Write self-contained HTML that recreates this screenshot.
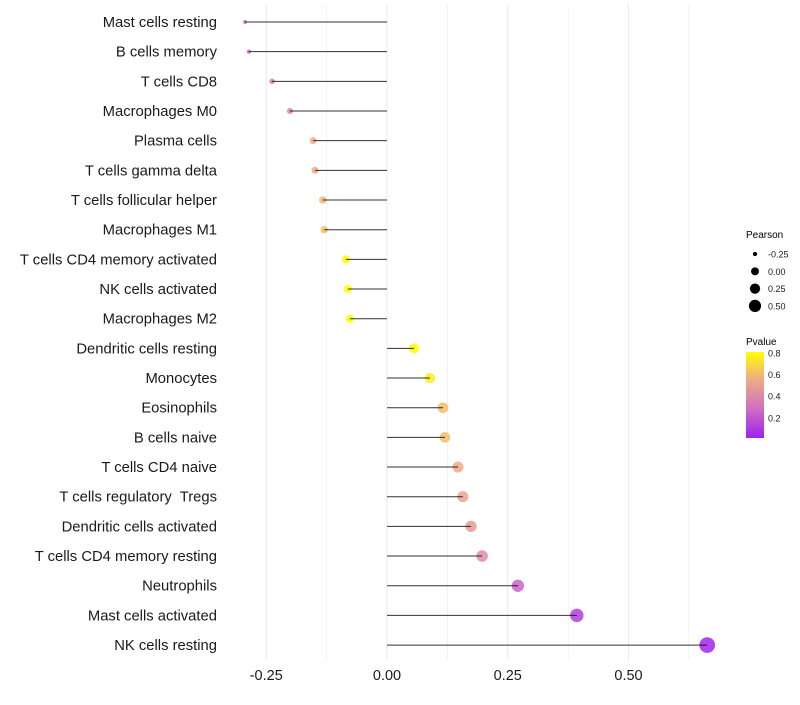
<!DOCTYPE html>
<html><head><meta charset="utf-8"><style>
body{margin:0;background:#fff;font-family:"Liberation Sans",sans-serif}
text{white-space:pre}
</style></head><body>
<svg id="c" width="800" height="700" xmlns="http://www.w3.org/2000/svg">
<defs><linearGradient id="pg" x1="0" y1="1" x2="0" y2="0">
<stop offset="0" stop-color="#A020F0"/><stop offset="0.35" stop-color="#D070C0"/><stop offset="0.7" stop-color="#F0B080"/><stop offset="1" stop-color="#FFFF00"/></linearGradient></defs>
<g id="grid"></g><g id="dots"></g><g id="marks"></g><g id="axes"></g><g id="legend"></g>
</svg>
<script>
const categories=["Mast cells resting","B cells memory","T cells CD8","Macrophages M0","Plasma cells","T cells gamma delta","T cells follicular helper","Macrophages M1","T cells CD4 memory activated","NK cells activated","Macrophages M2","Dendritic cells resting","Monocytes","Eosinophils","B cells naive","T cells CD4 naive","T cells regulatory  Tregs","Dendritic cells activated","T cells CD4 memory resting","Neutrophils","Mast cells activated","NK cells resting"];
const pearson=[-0.294,-0.286,-0.238,-0.201,-0.153,-0.149,-0.133,-0.130,-0.085,-0.081,-0.077,0.056,0.089,0.116,0.120,0.147,0.157,0.174,0.197,0.271,0.393,0.663];
const pvalue=[0.28,0.25,0.33,0.4,0.55,0.55,0.6,0.62,0.8,0.8,0.82,0.84,0.76,0.62,0.62,0.55,0.52,0.48,0.42,0.25,0.12,0.03];
const xTicks=[-0.25,0,0.25,0.5];
const xTickLabels=["-0.25","0.00","0.25","0.50"];
const sizeLegend=[-0.25,0,0.25,0.5];
const pLegend=[0.8,0.6,0.4,0.2];
const NS="http://www.w3.org/2000/svg";
const X=v=>387+v*483;
const Y=i=>22+i*29.67;
const R=v=>Math.sqrt(Math.max(1,21.6+60*v));
const stops=[[0,[160,32,240]],[0.35,[208,112,192]],[0.7,[240,176,128]],[1,[255,255,0]]];
function col(p){let t=Math.max(0,Math.min(1,(p-0.015)/0.795));for(let k=1;k<stops.length;k++){if(t<=stops[k][0]){const a=stops[k-1],b=stops[k],f=(t-a[0])/(b[0]-a[0]);return "rgb("+a[1].map((c,j)=>Math.round(c+(b[1][j]-c)*f)).join(",")+")";}}return "rgb(255,255,0)";}
function el(tag,attrs,parent){const e=document.createElementNS(NS,tag);for(const k in attrs)e.setAttribute(k,attrs[k]);document.getElementById(parent).appendChild(e);return e;}
[-0.25,-0.125,0,0.125,0.25,0.375,0.5,0.625].forEach(v=>{const g=el("line",{x1:X(v),x2:X(v),y1:5,y2:660,stroke:"#ebebeb","stroke-width":Number.isInteger(v*4)?1:0.6},"grid");

});
categories.forEach((c,i)=>{
const y=Y(i);
const d=el("circle",{cx:X(pearson[i]),cy:y,r:R(pearson[i]),fill:col(pvalue[i]),"fill-opacity":0.85},"dots");


const s=el("line",{x1:X(0),x2:X(pearson[i]),y1:y,y2:y,stroke:"#000","stroke-width":1,"stroke-opacity":0.8},"marks");


const t=el("text",{x:217,y:y+5,"text-anchor":"end","font-size":14.8,fill:"#1a1a1a"},"axes");t.textContent=c;


});
xTicks.forEach((v,i)=>{const t=el("text",{x:X(v),y:680,"text-anchor":"middle","font-size":14.5,fill:"#1a1a1a"},"axes");t.textContent=xTickLabels[i];

});
let t=el("text",{x:746,y:238,"font-size":10,fill:"#000"},"legend");t.textContent="Pearson";


sizeLegend.forEach((v,i)=>{const y=254+i*17.3;
const c=el("circle",{cx:755,cy:y,r:R(v)*0.85,fill:"#000"},"legend");


const l=el("text",{x:768,y:y+3.5,"font-size":9,fill:"#1a1a1a"},"legend");l.textContent=xTickLabels[i];

});
t=el("text",{x:746,y:345,"font-size":10,fill:"#000"},"legend");t.textContent="Pvalue";


const bar=el("rect",{x:746,y:352,width:18,height:86,fill:"url(#pg)"},"legend");


pLegend.forEach(p=>{const y=353+(0.8-p)*108;
const l=el("text",{x:768,y:y+3.5,"font-size":9,fill:"#1a1a1a"},"legend");l.textContent=p.toFixed(1);

});
</script>
</body></html>
